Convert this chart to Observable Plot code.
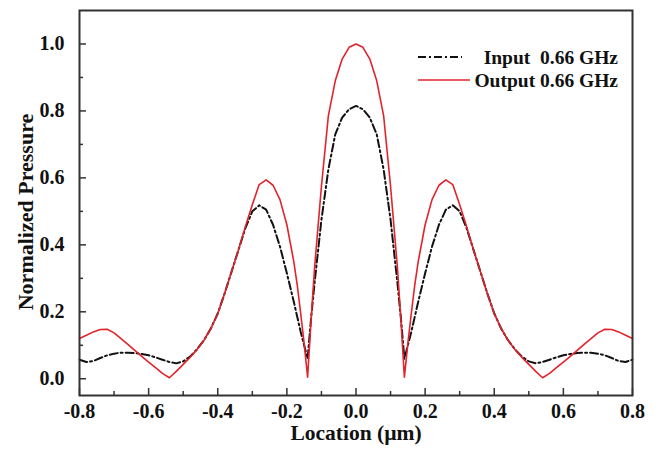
<!DOCTYPE html>
<html>
<head>
<meta charset="utf-8">
<script src="https://cdn.jsdelivr.net/npm/d3@7"></script>
<script src="https://cdn.jsdelivr.net/npm/@observablehq/plot@0.6"></script>
<style>
  html, body { margin: 0; padding: 0; background: #fff; }
  #wrap { position: relative; width: 669px; height: 452px; overflow: hidden; }
  #legend { position: absolute; left: 0; top: 0; pointer-events: none; }
  #legend text { font-family: "Liberation Serif", "Times New Roman", serif; font-weight: bold; font-size: 19.5px; fill: #111; white-space: pre; }
</style>
</head>
<body>
<div id="wrap"></div>
<script>
// ---- data ----
const locationUm = [
  -0.80, -0.78, -0.76, -0.74, -0.72, -0.70, -0.68, -0.66, -0.64, -0.62,
  -0.60, -0.58, -0.56, -0.54, -0.52, -0.50, -0.48, -0.46, -0.44, -0.42,
  -0.40, -0.38, -0.36, -0.34, -0.32, -0.30, -0.28, -0.26, -0.24, -0.22,
  -0.20, -0.18, -0.17, -0.16, -0.15, -0.14, -0.13, -0.12, -0.10, -0.08, -0.06, -0.04, -0.02,
   0.00,
   0.02,  0.04,  0.06,  0.08,  0.10,  0.12,  0.13,  0.14,  0.15,  0.16,  0.17,  0.18,  0.20,
   0.22,  0.24,  0.26,  0.28,  0.30,  0.32,  0.34,  0.36,  0.38,  0.40,
   0.42,  0.44,  0.46,  0.48,  0.50,  0.52,  0.54,  0.56,  0.58,  0.60,
   0.62,  0.64,  0.66,  0.68,  0.70,  0.72,  0.74,  0.76,  0.78,  0.80
];
const inputPressure = [
  0.057, 0.050, 0.053, 0.062, 0.070, 0.075, 0.078, 0.078, 0.077, 0.074,
  0.070, 0.064, 0.057, 0.050, 0.046, 0.052, 0.066, 0.088, 0.115, 0.150,
  0.195, 0.255, 0.320, 0.385, 0.450, 0.500, 0.518, 0.505, 0.460, 0.395,
  0.315, 0.230, 0.185, 0.140, 0.100, 0.060, 0.180, 0.285, 0.475, 0.625, 0.730, 0.780, 0.805,
  0.815,
  0.805, 0.780, 0.730, 0.625, 0.475, 0.285, 0.180, 0.060, 0.100, 0.140, 0.185, 0.230, 0.315,
  0.395, 0.460, 0.505, 0.518, 0.500, 0.450, 0.385, 0.320, 0.255, 0.195,
  0.150, 0.115, 0.088, 0.066, 0.052, 0.046, 0.050, 0.057, 0.064, 0.070,
  0.074, 0.077, 0.078, 0.078, 0.075, 0.070, 0.062, 0.053, 0.050, 0.057
];
const outputPressure = [
  0.120, 0.130, 0.140, 0.147, 0.148, 0.137, 0.120, 0.103, 0.085, 0.067,
  0.050, 0.033, 0.016, 0.003, 0.022, 0.043, 0.064, 0.087, 0.115, 0.150,
  0.195, 0.255, 0.320, 0.385, 0.455, 0.520, 0.580, 0.594, 0.578, 0.535,
  0.460, 0.350, 0.280, 0.195, 0.105, 0.005, 0.175, 0.330, 0.575, 0.785, 0.890, 0.955, 0.990,
  1.000,
  0.990, 0.955, 0.890, 0.785, 0.575, 0.330, 0.175, 0.005, 0.105, 0.195, 0.280, 0.350, 0.460,
  0.535, 0.578, 0.594, 0.580, 0.520, 0.455, 0.385, 0.320, 0.255, 0.195,
  0.150, 0.115, 0.087, 0.064, 0.043, 0.022, 0.003, 0.016, 0.033, 0.050,
  0.067, 0.085, 0.103, 0.120, 0.137, 0.148, 0.147, 0.140, 0.130, 0.120
];
const seriesNames = ["Input  0.66 GHz", "Output 0.66 GHz"];
const xMajorTicks = [-0.8, -0.6, -0.4, -0.2, 0.0, 0.2, 0.4, 0.6, 0.8];
const xMinorTicks = [-0.7, -0.5, -0.3, -0.1, 0.1, 0.3, 0.5, 0.7];
const yMajorTicks = [0.0, 0.2, 0.4, 0.6, 0.8, 1.0];
const yMinorTicks = [0.1, 0.3, 0.5, 0.7, 0.9];
const xTitle = "Location (\u00b5m)";
const yTitle = "Normalized Pressure";

// ---- build table ----
const rows = locationUm.map((x, i) => ({x, input: inputPressure[i], output: outputPressure[i]}));
const fmt = d => d.toFixed(1);
const font = '"Liberation Serif", "Times New Roman", serif';
const red = "#e3232c";

const chart = Plot.plot({
  width: 669,
  height: 452,
  marginTop: 10,
  marginRight: 37,
  marginBottom: 57,
  marginLeft: 79,
  style: {fontFamily: font, fontWeight: "bold", fontSize: "20px", background: "#fff", color: "#111", overflow: "visible"},
  x: {domain: [-0.8, 0.8]},
  y: {domain: [-0.05, 1.1]},
  marks: [
    Plot.line(rows, {x: "x", y: "input", stroke: "#111", strokeWidth: 2, strokeDasharray: "8,3,2,3"}),
    Plot.line(rows, {x: "x", y: "output", stroke: red, strokeWidth: 1.6}),
    // x axis: labels, major ticks, minor ticks (inward)
    Plot.axisX(xMajorTicks, {tickSize: 0, tickPadding: 8, tickFormat: fmt, label: null, fontSize: 20}),
    Plot.axisX(xMajorTicks, {tickSize: -7, tickFormat: () => "", label: null, stroke: "#333", strokeWidth: 1.5}),
    Plot.axisX(xMinorTicks, {tickSize: -4, tickFormat: () => "", label: null, stroke: "#333", strokeWidth: 1.5}),
    // y axis
    Plot.axisY(yMajorTicks, {tickSize: 0, tickPadding: 15, tickFormat: fmt, label: null, fontSize: 20}),
    Plot.axisY(yMajorTicks, {tickSize: -7, tickFormat: () => "", label: null, stroke: "#333", strokeWidth: 1.5}),
    Plot.axisY(yMinorTicks, {tickSize: -4, tickFormat: () => "", label: null, stroke: "#333", strokeWidth: 1.5}),
    // axis titles
    Plot.text([xTitle], {frameAnchor: "bottom", textAnchor: "middle", dy: 44, fontSize: 21.5, text: d => d, fill: "#111"}),
    Plot.text([yTitle], {frameAnchor: "left", textAnchor: "middle", dx: -54, dy: 9, rotate: -90, fontSize: 22, text: d => d, fill: "#111"}),
    Plot.frame({stroke: "#333", strokeWidth: 2})
  ]
});

const wrap = document.getElementById("wrap");
wrap.appendChild(chart);

// ---- legend (inside the plot area, top right) ----
const ns = "http://www.w3.org/2000/svg";
const leg = document.createElementNS(ns, "svg");
leg.setAttribute("id", "legend");
leg.setAttribute("width", 669);
leg.setAttribute("height", 452);
const legendItems = [
  {name: seriesNames[0], stroke: "#111", width: 2, dash: "8,3,2,3", x1: 418, x2: 462, y: 57},
  {name: seriesNames[1], stroke: red, width: 1.6, dash: null, x1: 418, x2: 470, y: 80}
];
for (const it of legendItems) {
  const ln = document.createElementNS(ns, "line");
  ln.setAttribute("x1", it.x1); ln.setAttribute("x2", it.x2);
  ln.setAttribute("y1", it.y); ln.setAttribute("y2", it.y);
  ln.setAttribute("stroke", it.stroke); ln.setAttribute("stroke-width", it.width);
  if (it.dash) ln.setAttribute("stroke-dasharray", it.dash);
  leg.appendChild(ln);
  const tx = document.createElementNS(ns, "text");
  tx.setAttribute("x", 618); tx.setAttribute("y", it.y);
  tx.setAttribute("dy", "0.35em");
  tx.setAttribute("text-anchor", "end");
  tx.setAttribute("xml:space", "preserve");
  tx.textContent = it.name;
  leg.appendChild(tx);
}
wrap.appendChild(leg);
</script>
</body>
</html>
